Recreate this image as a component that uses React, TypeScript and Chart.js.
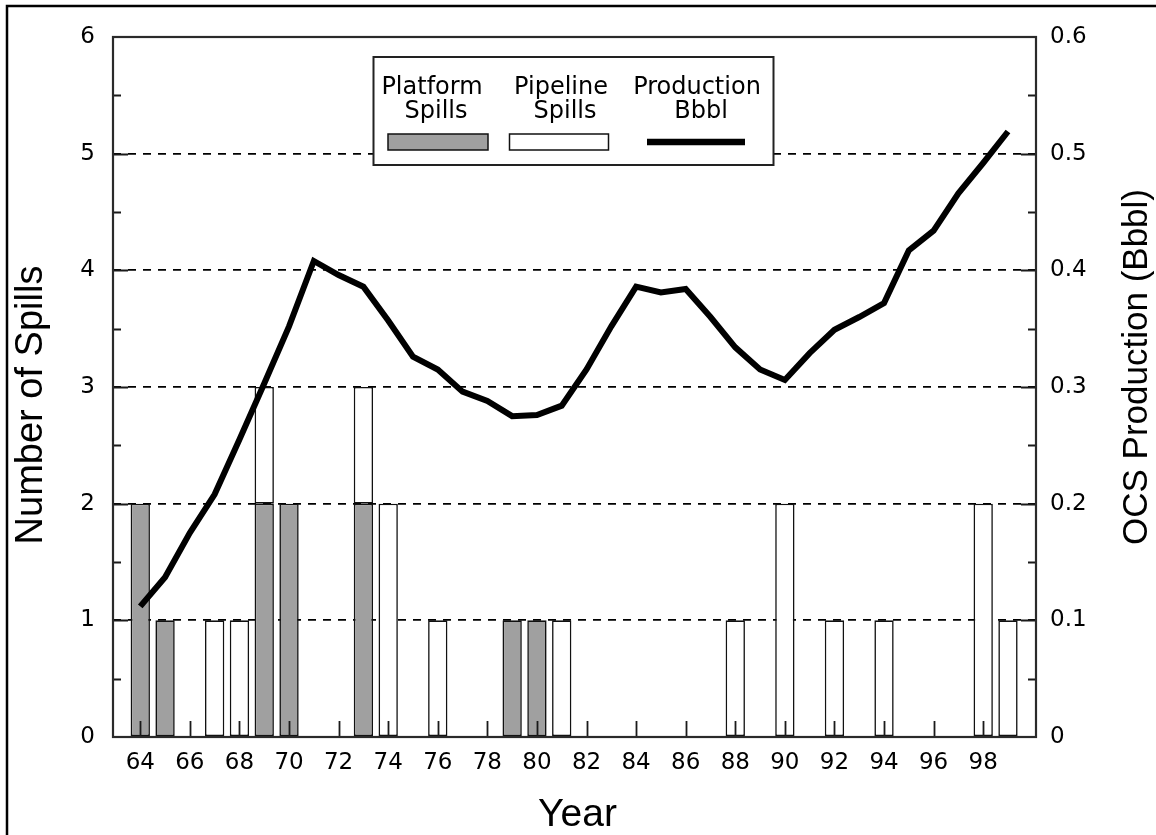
import React, { useEffect, useRef } from 'react';
import { Chart, registerables } from 'chart.js';

Chart.register(...registerables);

// ---- data ----
const YEARS = [64, 65, 66, 67, 68, 69, 70, 71, 72, 73, 74, 75, 76, 77, 78, 79, 80, 81, 82, 83, 84, 85, 86, 87, 88, 89, 90, 91, 92, 93, 94, 95, 96, 97, 98, 99];
const PLATFORM_SPILLS = [2, 1, 0, 0, 0, 2, 2, 0, 0, 2, 0, 0, 0, 0, 0, 1, 1, 0, 0, 0, 0, 0, 0, 0, 0, 0, 0, 0, 0, 0, 0, 0, 0, 0, 0, 0];
const PIPELINE_SPILLS = [0, 0, 0, 1, 1, 1, 0, 0, 0, 1, 2, 0, 1, 0, 0, 0, 0, 1, 0, 0, 0, 0, 0, 0, 1, 0, 2, 0, 1, 0, 1, 0, 0, 0, 2, 1];
const PRODUCTION_BBBL = [0.112, 0.137, 0.175, 0.208, 0.255, 0.303, 0.352, 0.408, 0.396, 0.386, 0.357, 0.326, 0.315, 0.296, 0.288, 0.275, 0.276, 0.284, 0.315, 0.352, 0.386, 0.381, 0.384, 0.36, 0.334, 0.315, 0.306, 0.329, 0.349, 0.36, 0.372, 0.417, 0.434, 0.466, 0.492, 0.519];

const X_TICKS = [64, 66, 68, 70, 72, 74, 76, 78, 80, 82, 84, 86, 88, 90, 92, 94, 96, 98];
const Y_TICKS = [0, 1, 2, 3, 4, 5, 6];
const Y2_TICKS = [0, 0.1, 0.2, 0.3, 0.4, 0.5, 0.6];

const X_MIN = 62.9;
const X_MAX = 100.13;

const TITLE_FONT = '"Liberation Sans", Arial, Helvetica, sans-serif';
const LABEL_FONT = '"DejaVu Sans", "Liberation Sans", Arial, sans-serif';
const GRAY = '#a0a0a0';

const decorPlugin = {
  id: 'decor',
  afterDatasetsDraw(chart: any) {
    const { ctx, chartArea: a, scales } = chart;
    const x = scales.x;
    const y = scales.y;
    ctx.save();
    ctx.strokeStyle = '#1a1a1a';
    ctx.lineWidth = 1.8;
    ctx.setLineDash([]);
    ctx.beginPath();
    for (const t of X_TICKS) {
      const px = Math.round(x.getPixelForValue(t)) + 0.5;
      ctx.moveTo(px, a.bottom);
      ctx.lineTo(px, a.bottom - 16);
    }
    for (let i = 0; i < Y_TICKS.length; i++) {
      const v = Y_TICKS[i];
      const py = Math.round(y.getPixelForValue(v)) + 0.5;
      if (v !== 0 && v !== 6) {
        ctx.moveTo(a.left, py);
        ctx.lineTo(a.left + 15, py);
        ctx.moveTo(a.right, py);
        ctx.lineTo(a.right - 15, py);
      }
      if (i < Y_TICKS.length - 1) {
        const pm = Math.round(y.getPixelForValue((v + Y_TICKS[i + 1]) / 2)) + 0.5;
        ctx.moveTo(a.left, pm);
        ctx.lineTo(a.left + 8, pm);
        ctx.moveTo(a.right, pm);
        ctx.lineTo(a.right - 8, pm);
      }
    }
    ctx.stroke();
    ctx.lineWidth = 2.2;
    ctx.strokeStyle = '#2a2a2a';
    ctx.strokeRect(a.left, a.top, a.right - a.left, a.bottom - a.top);
    ctx.restore();
  },
  afterDraw(chart: any) {
    const { ctx, chartArea: a } = chart;
    ctx.save();
    // legend box
    const lx = 373.5, ly = 57, lw = 400, lh = 108;
    ctx.fillStyle = '#fff';
    ctx.fillRect(lx, ly, lw, lh);
    ctx.strokeStyle = '#222';
    ctx.lineWidth = 2;
    ctx.strokeRect(lx, ly, lw, lh);
    ctx.fillStyle = '#000';
    ctx.font = `24px ${LABEL_FONT}`;
    ctx.textAlign = 'center';
    ctx.textBaseline = 'alphabetic';
    const cols = [
      { c: 432, l1: 'Platform', l2: 'Spills' },
      { c: 561, l1: 'Pipeline', l2: 'Spills' },
      { c: 697, l1: 'Production', l2: 'Bbbl' },
    ];
    for (const col of cols) {
      ctx.fillText(col.l1, col.c, 94);
      ctx.fillText(col.l2, col.c + 4, 118);
    }
    ctx.lineWidth = 1.5;
    ctx.strokeStyle = '#111';
    ctx.fillStyle = GRAY;
    ctx.fillRect(388, 134, 100, 16);
    ctx.strokeRect(388, 134, 100, 16);
    ctx.fillStyle = '#fff';
    ctx.fillRect(509.5, 134, 99, 16);
    ctx.strokeRect(509.5, 134, 99, 16);
    ctx.strokeStyle = '#000';
    ctx.lineWidth = 6.5;
    ctx.beginPath();
    ctx.moveTo(647, 142);
    ctx.lineTo(745, 142);
    ctx.stroke();

    // axis titles
    ctx.fillStyle = '#000';
    ctx.textAlign = 'center';
    ctx.textBaseline = 'alphabetic';
    ctx.font = `39px ${TITLE_FONT}`;
    ctx.fillText('Year', (a.left + a.right) / 2 + 3, 826);
    ctx.save();
    ctx.font = `38px ${TITLE_FONT}`;
    ctx.translate(42, 405);
    ctx.rotate(-Math.PI / 2);
    ctx.fillText('Number of Spills', 0, 0);
    ctx.restore();
    ctx.save();
    ctx.font = `35px ${TITLE_FONT}`;
    ctx.translate(1146.7, 367);
    ctx.rotate(-Math.PI / 2);
    ctx.fillText('OCS Production (Bbbl)', 0, 0);
    ctx.restore();

    // outer frame
    ctx.strokeStyle = '#000';
    ctx.lineWidth = 2.5;
    ctx.strokeRect(7, 6, 1170, 850);
    ctx.restore();
  },
};

export default function App() {
  const ref = useRef<HTMLCanvasElement | null>(null);

  useEffect(() => {
    if (!ref.current) return;
    const toBars = (arr: number[]) => YEARS.map((yr, i) => ({ x: yr, y: arr[i] === 0 ? null : arr[i] }));
    const tickFont = { family: LABEL_FONT, size: 23 };
    const chart = new Chart(ref.current, {
      type: 'bar',
      data: {
        datasets: [
          {
            type: 'line',
            label: 'Production Bbbl',
            data: YEARS.map((yr, i) => ({ x: yr, y: PRODUCTION_BBBL[i] })),
            yAxisID: 'y2',
            borderColor: '#000',
            borderWidth: 6,
            pointRadius: 0,
            tension: 0,
            fill: false,
            borderJoinStyle: 'miter',
            order: 0,
          } as any,
          {
            type: 'bar',
            label: 'Platform Spills',
            data: toBars(PLATFORM_SPILLS),
            yAxisID: 'y',
            backgroundColor: GRAY,
            borderColor: '#111',
            borderWidth: 1.6,
            borderSkipped: false,
            barPercentage: 0.78,
            categoryPercentage: 1,
            order: 1,
          } as any,
          {
            type: 'bar',
            label: 'Pipeline Spills',
            data: toBars(PIPELINE_SPILLS),
            yAxisID: 'y',
            backgroundColor: '#fff',
            borderColor: '#111',
            borderWidth: 1.6,
            borderSkipped: false,
            barPercentage: 0.78,
            categoryPercentage: 1,
            order: 1,
          } as any,
        ],
      },
      options: {
        animation: false,
        responsive: false,
        devicePixelRatio: 1,
        layout: { padding: { top: 37, left: 0, right: 0, bottom: 0 } },
        plugins: {
          legend: { display: false },
          tooltip: { enabled: false },
          title: { display: false },
        },
        scales: {
          x: {
            type: 'linear',
            min: X_MIN,
            max: X_MAX,
            offset: false,
            stacked: true,
            grid: { display: false, drawTicks: false },
            border: { display: false },
            ticks: {
              font: tickFont,
              color: '#000',
              padding: 12,
              maxRotation: 0,
              autoSkip: false,
              callback: (v: any) => String(v),
            },
            afterBuildTicks: (s: any) => {
              s.ticks = X_TICKS.map((v) => ({ value: v }));
            },
            afterFit: (s: any) => {
              s.height = 98;
            },
          },
          y: {
            type: 'linear',
            position: 'left',
            min: 0,
            max: 6,
            stacked: true,
            grid: {
              drawTicks: false,
              lineWidth: 1.8,
              color: (c: any) => (c.tick && (c.tick.value === 0 || c.tick.value === 6) ? 'rgba(0,0,0,0)' : '#000'),
            },
            border: { display: false, dash: [8, 7] },
            ticks: {
              font: tickFont,
              color: '#000',
              padding: 18,
              callback: (v: any) => String(v),
            },
            afterBuildTicks: (s: any) => {
              s.ticks = Y_TICKS.map((v) => ({ value: v }));
            },
            afterFit: (s: any) => {
              s.width = 113;
            },
          },
          y2: {
            type: 'linear',
            position: 'right',
            min: 0,
            max: 0.6,
            grid: { display: false, drawTicks: false },
            border: { display: false },
            ticks: {
              font: tickFont,
              color: '#000',
              padding: 14,
              callback: (v: any) => (v === 0 ? '0' : Number(v).toFixed(1)),
            },
            afterBuildTicks: (s: any) => {
              s.ticks = Y2_TICKS.map((v) => ({ value: v }));
            },
            afterFit: (s: any) => {
              s.width = 120;
            },
          },
        },
      } as any,
      plugins: [decorPlugin],
    });
    return () => chart.destroy();
  }, []);

  return (
    <div style={{ position: 'fixed', left: 0, top: 0, width: 1156, height: 835, background: '#fff' }}>
      <canvas ref={ref} width={1156} height={835} style={{ display: 'block', width: 1156, height: 835 }} />
    </div>
  );
}
